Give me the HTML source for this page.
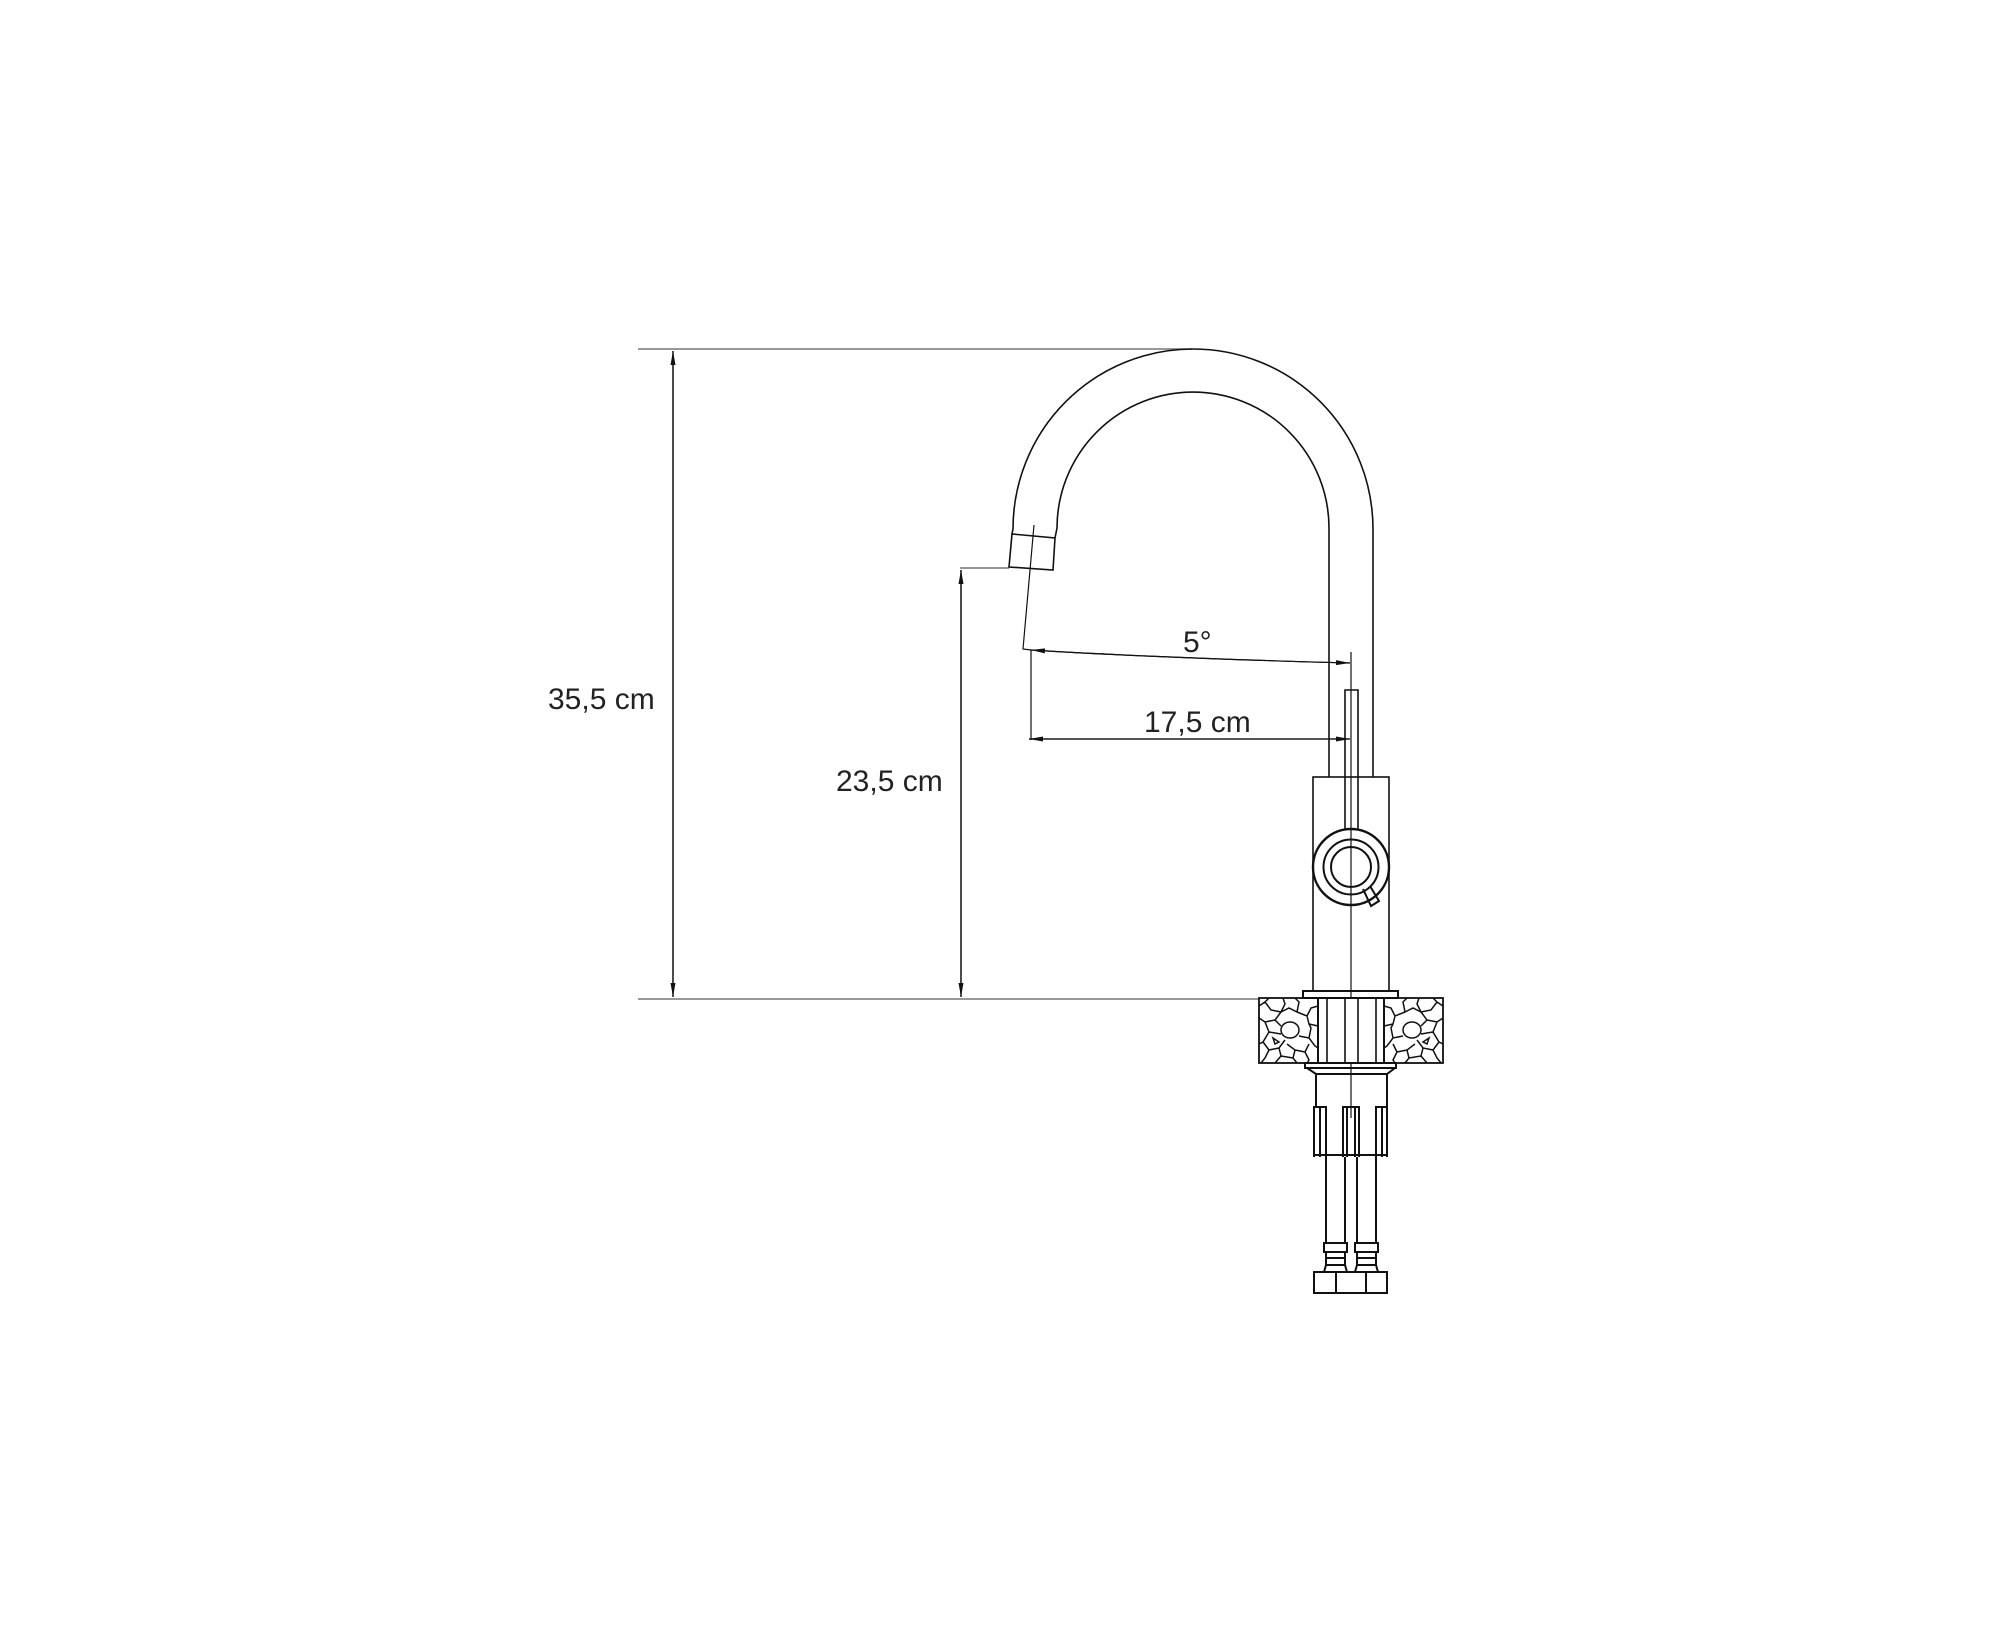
<!DOCTYPE html>
<html><head><meta charset="utf-8"><style>
html,body{margin:0;padding:0;background:#fff;}
svg{display:block;}
text{font-family:"Liberation Sans",sans-serif;font-size:30px;fill:#222;}
</style></head><body>
<svg width="2000" height="1645" viewBox="0 0 2000 1645" xmlns="http://www.w3.org/2000/svg">
<defs>
<marker id="a" markerWidth="14" markerHeight="8" refX="14" refY="4" orient="auto" markerUnits="userSpaceOnUse"><path d="M0,1.5 L14,4 L0,6.5 Z" fill="#111"/></marker>
<g id="stone" fill="none" stroke="#111" stroke-width="1.5">
<ellipse cx="31" cy="32" rx="9" ry="8"/>
<path d="M0,8 L6,4 L10,0 M6,4 L12,12 L22,14 L26,6 L24,0 M22,14 L30,10 L38,14 L40,4 L36,0 M38,14 L48,18 L52,10 L59,8 M48,18 L50,26 L59,28 M40,38 L50,40 L52,30 L50,26 M50,40 L56,48 L59,50 M22,14 L16,22 L22,28 M16,22 L6,24 L0,20 M6,24 L10,34 L22,36 M10,34 L4,44 L0,46 M4,44 L10,52 L20,50 L26,42 M20,50 L22,58 L34,60 L36,52 L28,46 M36,52 L46,54 L50,46 M22,58 L16,65 M34,60 L38,65 M46,54 L50,62 L48,65 M10,52 L6,60 L2,65 M14,40 L20,44 L16,46 Z"/>
</g>
</defs>
<g fill="none" stroke="#111" stroke-width="1.6">
<line x1="638" y1="349" x2="1192" y2="349" stroke="#777" stroke-width="1.5"/>
<line x1="638" y1="999" x2="1259" y2="999" stroke="#777" stroke-width="1.5"/>
<line x1="960" y1="568" x2="1009" y2="568" stroke="#555" stroke-width="1.2"/>
<line x1="673" y1="351" x2="673" y2="997" stroke-width="1.3" marker-end="url(#a)"/>
<line x1="673" y1="997" x2="673" y2="351" stroke-width="1.3" marker-end="url(#a)"/>
<line x1="961" y1="570" x2="961" y2="997" stroke-width="1.3" marker-end="url(#a)"/>
<line x1="961" y1="997" x2="961" y2="570" stroke-width="1.3" marker-end="url(#a)"/>
<path d="M1012,534 L1013,529 A180,180 0 0 1 1373,529 L1373,777"/>
<path d="M1055,538 L1057,528 A136,136 0 0 1 1329,528 L1329,777"/>
<path d="M1012,534 L1055,538 L1053,570 L1009,567 Z"/>
<path d="M1034,525 L1023,649 L1031,650" stroke-width="1.2"/>
<path d="M1350,663 Q1160,658 1031,650" stroke-width="1.2" marker-end="url(#a)"/>
<path d="M1031,650 Q1160,658 1350,663" stroke-width="1.2" marker-end="url(#a)"/>
<line x1="1031" y1="650" x2="1031" y2="740" stroke-width="1.2"/>
<line x1="1029" y1="739" x2="1350" y2="739" stroke-width="1.2" marker-end="url(#a)"/>
<line x1="1350" y1="739" x2="1029" y2="739" stroke-width="1.2" marker-end="url(#a)"/>
<line x1="1351" y1="652" x2="1351" y2="1118" stroke-width="1.2"/>
<rect x="1313" y="777" width="76" height="214"/>
<path d="M1345,829 L1345,690 L1358,690 L1358,829"/>
<circle cx="1351" cy="867" r="38" stroke-width="2.4"/>
<circle cx="1351" cy="867" r="27.5" stroke-width="2"/>
<circle cx="1351" cy="867" r="20" stroke-width="2"/>
<path d="M1363,889 L1371,906 L1379,901 L1370,886" stroke-width="2"/>
<rect x="1303" y="991" width="95" height="7" stroke-width="2"/>
<rect x="1259" y="998" width="184" height="65" stroke-width="1.8"/>
<rect x="1318" y="998" width="66" height="65" fill="#fff" stroke-width="2"/>
<line x1="1327" y1="998" x2="1327" y2="1063"/>
<line x1="1345" y1="998" x2="1345" y2="1063"/>
<line x1="1358" y1="998" x2="1358" y2="1063"/>
<line x1="1376" y1="998" x2="1376" y2="1063"/>
<use href="#stone" x="1259" y="998"/>
<use href="#stone" transform="translate(1443,998) scale(-1,1)"/>
<rect x="1305" y="1063" width="91" height="5" stroke-width="2"/>
<path d="M1307,1068 L1316,1074 L1387,1074 L1395,1068" stroke-width="2"/>
<path d="M1316,1074 L1316,1107 M1387,1074 L1387,1107" stroke-width="2"/>
<path d="M1314,1157 L1314,1107 L1326,1107 L1326,1157 M1320,1107 L1320,1157" stroke-width="2"/>
<path d="M1343,1157 L1343,1107 L1359,1107 L1359,1157 M1347,1107 L1347,1157 M1355,1107 L1355,1157" stroke-width="2"/>
<path d="M1376,1157 L1376,1107 L1387,1107 L1387,1157 M1382,1107 L1382,1157" stroke-width="2"/>
<line x1="1314" y1="1155" x2="1387" y2="1155" stroke-width="2"/>
<path d="M1326,1157 L1326,1243 M1345,1157 L1345,1243 M1357,1157 L1357,1243 M1376,1157 L1376,1243" stroke-width="2"/>
<path d="M1324,1243 L1347,1243 L1347,1252 L1324,1252 Z M1326,1252 L1326,1265 L1345,1265 L1345,1252 M1326,1258 L1345,1258 M1326,1265 L1324,1272 M1345,1265 L1347,1272" stroke-width="2"/>
<path d="M1355,1243 L1378,1243 L1378,1252 L1355,1252 Z M1357,1252 L1357,1265 L1376,1265 L1376,1252 M1357,1258 L1376,1258 M1357,1265 L1355,1272 M1376,1265 L1378,1272" stroke-width="2"/>
<rect x="1314" y="1272" width="73" height="21" stroke-width="2"/>
<path d="M1336,1272 L1336,1293 M1366,1272 L1366,1293" stroke-width="2"/>
</g>
<text x="548" y="709">35,5 cm</text>
<text x="836" y="791">23,5 cm</text>
<text x="1183" y="652">5°</text>
<text x="1144" y="732">17,5 cm</text>
</svg>
</body></html>
